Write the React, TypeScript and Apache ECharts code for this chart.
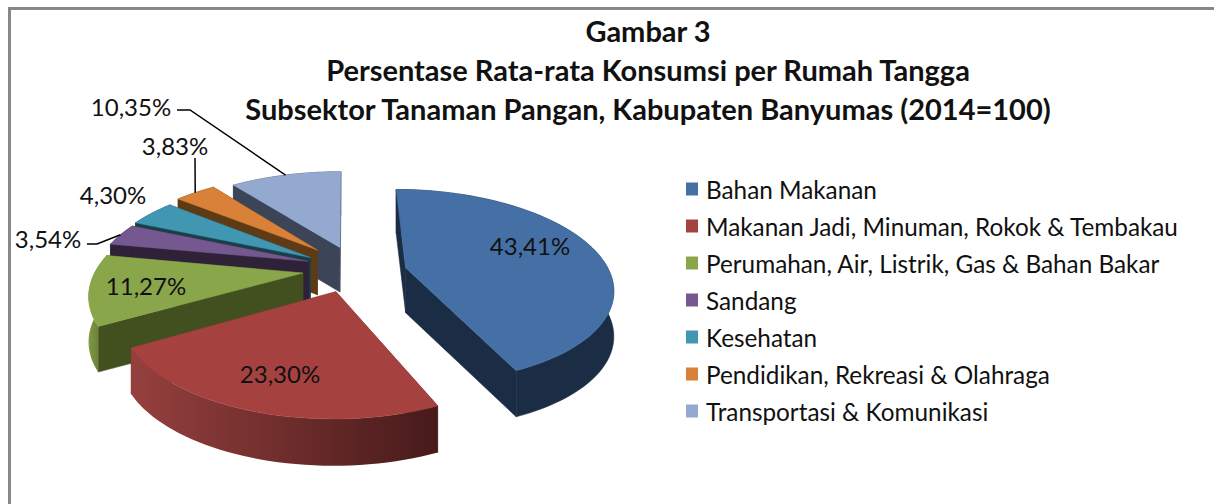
import React, { useEffect, useRef } from "react";
import * as echarts from "echarts";

const categories = [
  "Bahan Makanan",
  "Makanan Jadi, Minuman, Rokok & Tembakau",
  "Perumahan, Air, Listrik, Gas & Bahan Bakar",
  "Sandang",
  "Kesehatan",
  "Pendidikan, Rekreasi & Olahraga",
  "Transportasi & Komunikasi",
];
const values = [43.41, 23.3, 11.27, 3.54, 4.3, 3.83, 10.35];
const valueLabels = ["43,41%", "23,30%", "11,27%", "3,54%", "4,30%", "3,83%", "10,35%"];
const titleLines = [
  "Gambar 3",
  "Persentase Rata-rata Konsumsi per Rumah Tangga",
  "Subsektor Tanaman Pangan, Kabupaten Banyumas (2014=100)",
];

const topColors = ["#4570a6", "#a54240", "#8aa64b", "#74588f", "#4197b1", "#d98138", "#93a9cf"];
const wallColors = ["#1b2d45", "#7a3130", "#42501f", "#2e2138", "#1a3f4a", "#5e3a15", "#3b4557"];

const CX = 346, CY = 273, A = 215, B = 100, P = 0.2, D = 45;
const explodeU = [0.28, -0.045, -0.2, -0.18, -0.171, -0.139, -0.03];
const explodeW = [0.053, -0.18, 0, 0.12, 0.16, 0.24, 0.27];
const radius = [0.95, 0.95, 0.97, 1, 1, 1, 1];
const labelAt = [[530, 245], [280, 373], [146, 285], [48, 238], [113, 194], [175, 145], [131, 106]];
const leaderStart: Record<number, number[][]> = {
  3: [[87, 244], [97, 244]],
  5: [[195, 158]],
  6: [[177, 110], [190, 110]],
};

const total = values.reduce((a, b) => a + b, 0);
const startDeg = values.map((_, i) => (values.slice(0, i).reduce((a, b) => a + b, 0) / total) * 360);

const project = (i: number, deg: number, r: number) => {
  const t = (deg * Math.PI) / 180;
  const u = explodeU[i] + r * radius[i] * Math.sin(t);
  const w = explodeW[i] + r * radius[i] * Math.cos(t);
  const s = 1 / (1 + P * w);
  return { x: CX + A * u * s, y: CY - B * w * s, s };
};
const down = (p: { x: number; y: number; s: number }) => [p.x, p.y + D * Math.pow(p.s, 0.15)];
const up = (p: { x: number; y: number }) => [p.x, p.y];

const renderSlice = (i: number) => (_params: any, api: any) => {
  const sweep = (api.value(0) / total) * 360;
  const from = startDeg[i];
  const steps = Math.max(4, Math.ceil(sweep / 2));
  const arc = Array.from({ length: steps + 1 }, (_, k) => project(i, from + (sweep * k) / steps, 1));
  const apex = project(i, 0, 0);
  const first = arc[0];
  const last = arc[arc.length - 1];
  const poly = (points: number[][], fill: any, z2: number) => ({
    type: "polygon",
    shape: { points },
    style: { fill, stroke: typeof fill === "string" ? fill : undefined, lineWidth: 0.5 },
    z2,
  });
  const xs = arc.map((p) => p.x);
  let arcFill: any = wallColors[i];
  if (i === 1) {
    arcFill = new echarts.graphic.LinearGradient(
      Math.min(...xs), 0, Math.max(...xs), 0,
      [{ offset: 0, color: "#95403e" }, { offset: 0.5, color: "#6e2d2c" }, { offset: 1, color: "#471a1a" }],
      true,
    );
  } else if (i === 2) {
    arcFill = new echarts.graphic.LinearGradient(
      Math.min(...xs), 0, Math.min(...xs) + 30, 0,
      [{ offset: 0, color: "#7f9a45" }, { offset: 1, color: "#42501f" }],
      true,
    );
  }
  const children: any[] = [
    poly([up(apex), up(first), down(first), down(apex)], wallColors[i], 1),
    poly([up(apex), up(last), down(last), down(apex)], wallColors[i], 1),
    poly([...arc.map(up), ...arc.slice().reverse().map(down)], arcFill, 2),
    poly([up(apex), ...arc.map(up)], topColors[i], 3),
  ];
  if (leaderStart[i]) {
    const mid = project(i, from + sweep / 2, 1);
    children.push({
      type: "polyline",
      shape: { points: [...leaderStart[i], up(mid)] },
      style: { stroke: "#000000", lineWidth: 1.5, fill: "none" },
      z2: 4,
    });
  }
  children.push({
    type: "text",
    style: {
      text: valueLabels[i],
      x: labelAt[i][0],
      y: labelAt[i][1],
      align: "center",
      verticalAlign: "middle",
      fill: "#111111",
      fontFamily: "Lato",
      fontSize: 24,
    },
    z2: 5,
  });
  return { type: "group", children };
};

export default function App() {
  const ref = useRef<HTMLDivElement>(null);
  useEffect(() => {
    const chart = echarts.init(ref.current!, undefined, { renderer: "svg" });
    chart.setOption({
      animation: false,
      backgroundColor: "#ffffff",
      title: {
        text: titleLines.join("\n"),
        left: 648,
        top: 11,
        padding: 0,
        textAlign: "center",
        textStyle: { fontFamily: "Lato", fontWeight: "bold", fontSize: 29, lineHeight: 39, color: "#111111" },
      },
      legend: {
        orient: "vertical",
        left: 686,
        top: 177,
        padding: 0,
        itemWidth: 12,
        itemHeight: 13,
        itemGap: 13,
        icon: "rect",
        selectedMode: false,
        data: categories,
        textStyle: { fontFamily: "Lato", fontSize: 24.3, color: "#111111", lineHeight: 24, padding: [0, 0, 0, 3] },
      },
      graphic: [
        { type: "rect", shape: { x: 8, y: 7, width: 1206, height: 3 }, style: { fill: "#888888" } },
        { type: "rect", shape: { x: 8, y: 7, width: 3, height: 497 }, style: { fill: "#888888" } },
      ],
      series: categories.map((name, i) => ({
        type: "custom",
        name,
        coordinateSystem: "none",
        z: 2 + (categories.length - i),
        itemStyle: { color: topColors[i] },
        renderItem: renderSlice(i),
        data: [values[i]],
        silent: true,
      })),
    });
    return () => chart.dispose();
  }, []);
  return <div ref={ref} style={{ position: "absolute", left: 0, top: 0, width: 1214, height: 504 }} />;
}
